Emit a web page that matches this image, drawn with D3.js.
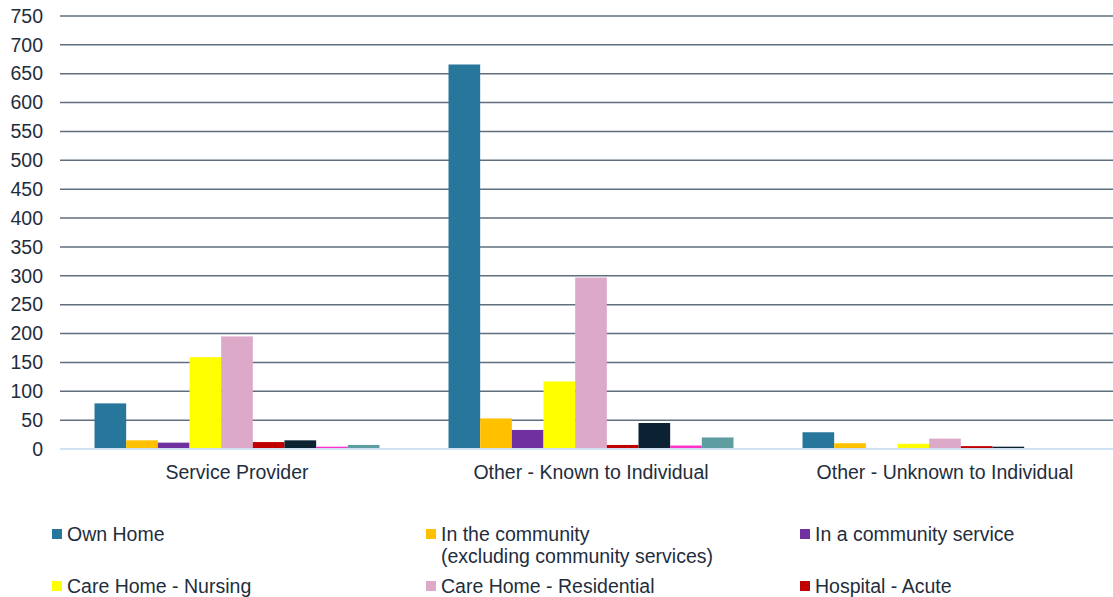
<!DOCTYPE html>
<html><head><meta charset="utf-8">
<script src="https://cdn.jsdelivr.net/npm/d3@7"></script>
<style>body{margin:0;background:#fff;} svg{display:block;font-family:"Liberation Sans",Arial,sans-serif;}</style>
</head><body><div id="chart"></div>
<script>
const categories = ["Service Provider", "Other - Known to Individual", "Other - Unknown to Individual"];
const seriesNames = ["Own Home", "In the community\n(excluding community services)", "In a community service", "Care Home - Nursing", "Care Home - Residential", "Hospital - Acute", "Series 7", "Series 8", "Series 9"];
const seriesColors = ["#27769B", "#FFC000", "#7030A0", "#FFFF00", "#DDA9C8", "#C00000", "#0B2233", "#FF33CC", "#5F9EA0"];
const ownHome = [79, 666, 29];
const inCommunity = [15, 53, 10];
const communityService = [11, 33, 0];
const nursing = [159, 117, 9];
const residential = [195, 297, 18];
const hospitalAcute = [12, 7, 5];
const series7 = [15, 45, 4];
const series8 = [4, 6, 0];
const series9 = [7, 20, 0];
const seriesValues = [ownHome, inCommunity, communityService, nursing, residential, hospitalAcute, series7, series8, series9];
const yTicks = d3.range(0, 751, 50);
const legendCount = 6;

const W = 1113, H = 597;
const FS = 19.5;
const svg = d3.select("#chart").append("svg").attr("width", W).attr("height", H);
const m = {left: 60, right: -9, top: 16, bottom: 148};
const x0 = d3.scaleBand().domain(categories).range([m.left, W - m.right]).paddingInner(0.195).paddingOuter(0.0975);
const x1 = d3.scaleBand().domain(d3.range(seriesNames.length)).range([0, x0.bandwidth()]);
const y = d3.scaleLinear().domain([0, 750]).range([H - m.bottom, m.top]);

const textColor = "#1f2d3d";
// gridlines
svg.append("g").selectAll("line").data(yTicks.filter(d => d > 0)).join("line")
  .attr("x1", m.left).attr("x2", W).attr("y1", d => y(d)).attr("y2", d => y(d))
  .attr("stroke", "#5f6e7e").attr("stroke-width", 1.5);
// y labels
const yAxis = d3.axisLeft(y).tickValues(yTicks).tickSize(0).tickPadding(0);
const ya = svg.append("g").attr("transform", `translate(43,0)`).call(yAxis);
ya.select(".domain").remove();
ya.selectAll("text").attr("font-size", FS).attr("fill", textColor).attr("font-family", "Liberation Sans, Arial, sans-serif");

// bars
const groups = svg.append("g").selectAll("g").data(categories).join("g")
  .attr("transform", d => `translate(${x0(d)},0)`);
groups.selectAll("rect").data((c, ci) => seriesValues.map((s, si) => ({si, v: s[ci]}))).join("rect")
  .filter(d => d.v > 0)
  .attr("x", d => x1(d.si)).attr("width", x1.bandwidth())
  .attr("y", d => y(d.v)).attr("height", d => y(0) - y(d.v))
  .attr("fill", d => seriesColors[d.si]);

// baseline
svg.append("line").attr("x1", m.left).attr("x2", W).attr("y1", y(0)).attr("y2", y(0))
  .attr("stroke", "#cfe2f3").attr("stroke-width", 2);

// x labels
const xAxis = d3.axisBottom(x0).tickSize(0).tickPadding(0);
const xa = svg.append("g").attr("transform", `translate(0,${y(0) + 16})`).call(xAxis);
xa.select(".domain").remove();
xa.selectAll("text").attr("font-size", FS).attr("fill", textColor).attr("font-family", "Liberation Sans, Arial, sans-serif").attr("dy", "0.71em");

// legend
const legX = [52, 426, 800];
const legY = [534, 586];
const leg = svg.append("g").selectAll("g").data(seriesNames.slice(0, legendCount)).join("g")
  .attr("transform", (d, i) => `translate(${legX[i % 3]},${legY[Math.floor(i / 3)]})`);
leg.append("rect").attr("x", 0).attr("y", -5).attr("width", 10).attr("height", 10)
  .attr("fill", (d, i) => seriesColors[i]);
leg.append("text").attr("x", 15).attr("y", 0)
  .attr("font-size", FS).attr("fill", textColor)
  .selectAll("tspan").data(d => d.split("\n")).join("tspan")
  .attr("x", 15).attr("dy", (d, i) => i === 0 ? "0.35em" : "1.15em").text(d => d);
</script></body></html>
